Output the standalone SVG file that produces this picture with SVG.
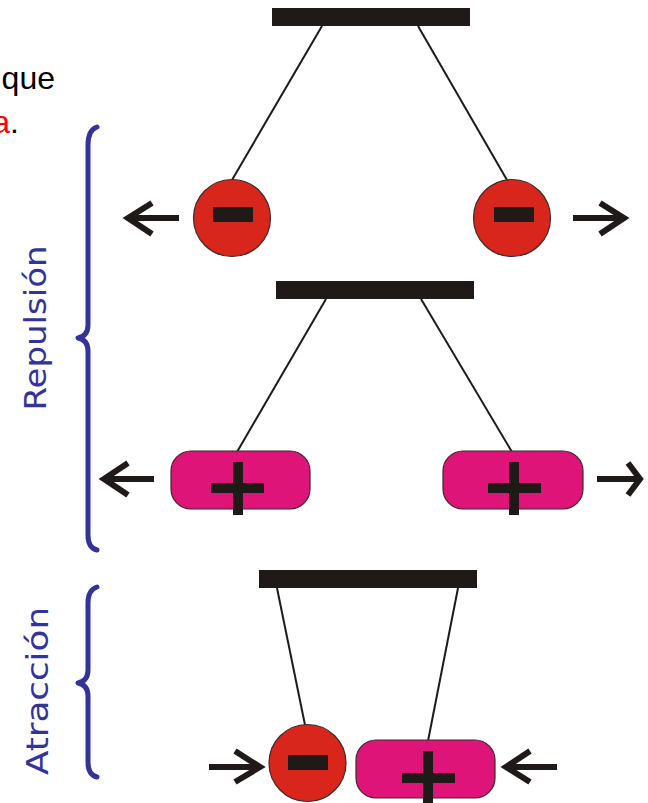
<svg xmlns="http://www.w3.org/2000/svg" width="648" height="803" viewBox="0 0 648 803">
<style>
.bar{fill:#1f1a17}
.str{stroke:#1f1a17;stroke-width:2;fill:none}
.neg{fill:#d9261c;stroke:#3a2a28;stroke-width:1.2}
.pos{fill:#de1478;stroke:#3a2a28;stroke-width:1.2}
.sym{fill:#1f1a17}
.arr{stroke:#1f1a17;stroke-width:6;fill:none;stroke-linecap:butt;stroke-linejoin:miter}
.brace{stroke:#333399;stroke-width:5;fill:none;stroke-linecap:round;stroke-linejoin:round}
.lbl{font-family:"DejaVu Sans","Liberation Sans",sans-serif;font-size:30px;fill:#333399}
.txt{font-family:"Liberation Sans",Arial,sans-serif;font-size:32px;fill:#000}
</style>
<rect width="648" height="803" fill="#fff"/>
<text class="txt" x="55" y="89" text-anchor="end">que</text>
<text class="txt" x="19" y="133" text-anchor="end"><tspan fill="#ff0000">a</tspan>.</text>
<g id="brace-repulsion">
<path class="brace" d="M97,127 Q88,130 88,145 L88,325 Q88,336 78,338 Q88,340 88,351 L88,535 Q88,548 97,550"/>
<text class="lbl" transform="translate(46,328) rotate(-90)" text-anchor="middle" textLength="165" lengthAdjust="spacingAndGlyphs">Repulsión</text>
</g>
<g id="brace-atraccion">
<path class="brace" d="M97,587 Q88,590 88,603 L88,670 Q88,681 78,683 Q88,685 88,696 L88,762 Q88,775 97,777"/>
<text class="lbl" transform="translate(48,691) rotate(-90)" text-anchor="middle" textLength="168" lengthAdjust="spacingAndGlyphs">Atracción</text>
</g>
<g id="connectors">
<line class="str" x1="322" y1="26" x2="232" y2="180"/>
<line class="str" x1="418" y1="26" x2="507" y2="180"/>
<line class="str" x1="326" y1="299" x2="237" y2="452"/>
<line class="str" x1="421" y1="299" x2="512" y2="452"/>
<line class="str" x1="277" y1="588" x2="305" y2="725"/>
<line class="str" x1="458" y1="588" x2="428" y2="741"/>
<path class="arr" d="M179,218 H128 M152,203 L128,218 L152,234"/>
<path class="arr" d="M573,218 H624 M600,203 L624,218 L600,234"/>
<path class="arr" d="M154,479 H104 M128,463 L104,479 L128,495"/>
<path class="arr" d="M597,479 H640 M628,463 L640,479 L628,495"/>
<path class="arr" d="M209,767 H260 M235,751 L260,767 L235,782"/>
<path class="arr" d="M557,767 H506 M530,751 L506,767 L530,782"/>
</g>
<g id="bar-top"><rect class="bar" x="272" y="8" width="198" height="18"/></g>
<g id="bar-middle"><rect class="bar" x="276" y="281" width="198" height="18"/></g>
<g id="bar-bottom"><rect class="bar" x="259" y="570" width="218" height="18"/></g>
<g id="neg-top-left"><circle class="neg" cx="232" cy="218" r="38.5"/><rect class="sym" x="213" y="207" width="40" height="15"/></g>
<g id="neg-top-right"><circle class="neg" cx="512" cy="218" r="38.5"/><rect class="sym" x="494" y="207" width="40" height="15"/></g>
<g id="pos-mid-left"><rect class="pos" x="171" y="451" width="139" height="58" rx="20"/><rect class="sym" x="211" y="483" width="53" height="10"/><rect class="sym" x="233" y="462" width="10" height="53"/></g>
<g id="pos-mid-right"><rect class="pos" x="443" y="451" width="140" height="58" rx="20"/><rect class="sym" x="488" y="483" width="53" height="10"/><rect class="sym" x="509" y="462" width="10" height="53"/></g>
<g id="neg-bottom"><circle class="neg" cx="307.5" cy="763" r="38.5"/><rect class="sym" x="288" y="755" width="40" height="15"/></g>
<g id="pos-bottom"><rect class="pos" x="356" y="740" width="139" height="58" rx="20"/><rect class="sym" x="402" y="773" width="53" height="10"/><rect class="sym" x="423" y="751" width="10" height="55"/></g>
</svg>
